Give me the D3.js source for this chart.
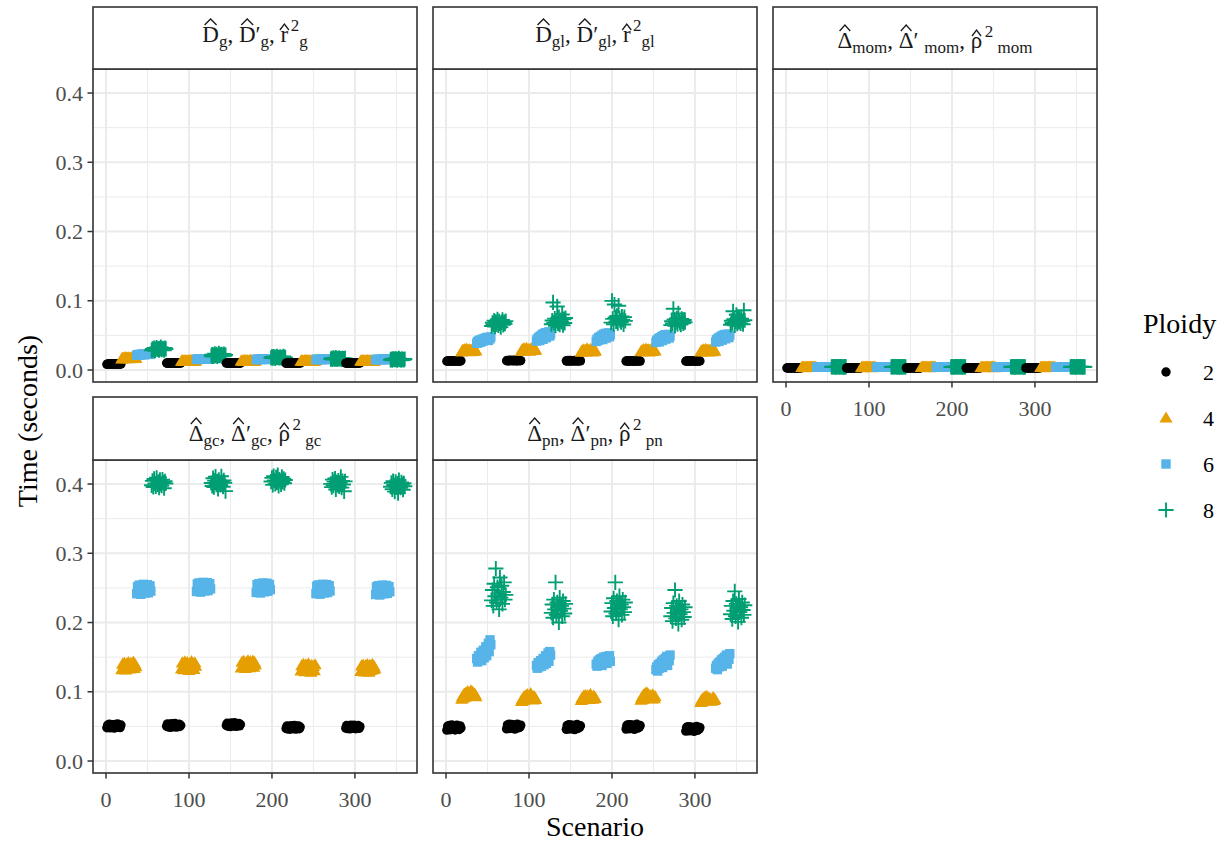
<!DOCTYPE html>
<html>
<head>
<meta charset="utf-8">
<script src="https://cdn.jsdelivr.net/npm/d3@7"></script>
<style>
  body { margin: 0; background: #fff; }
</style>
</head>
<body>
<div id="chart"></div>
<script>
// Computation time per scenario (milliseconds), 5 blocks of 18 scenarios per ploidy level

// D_g, D'_g, r^2_g
const gT2 = [
  [8.2,8.9,8.5,9.1,8.7,8.4,9.3,8.8,8.6,9.0,8.3,8.9,9.2,8.5,8.7,9.0,8.4,8.8],
  [10.1,9.6,10.4,9.9,10.2,9.7,10.5,10.0,9.8,10.3,9.9,10.1,9.6,10.4,10.0,9.8,10.2,9.9],
  [9.9,10.3,9.7,10.1,10.4,9.8,10.0,10.2,9.6,10.3,9.9,10.1,10.5,9.8,10.0,10.2,9.7,10.1],
  [9.7,10.0,10.3,9.8,10.1,9.6,10.2,9.9,10.4,10.0,9.7,10.1,9.9,10.3,9.8,10.0,10.2,9.9],
  [10.0,9.8,10.2,9.9,10.4,10.1,9.7,10.0,10.3,9.8,10.1,9.9,10.2,10.0,9.6,10.3,9.9,10.1]
];
const gT4 = [
  [16.2,17.0,16.5,17.4,16.8,17.9,16.4,17.2,17.6,16.9,16.3,17.5,17.1,16.7,17.8,16.6,17.3,17.0],
  [12.8,13.3,12.6,13.6,13.0,12.9,13.4,12.7,13.2,13.5,12.8,13.1,13.7,12.9,13.3,13.0,12.6,13.4],
  [13.1,12.7,13.4,12.9,13.6,13.2,12.8,13.5,13.0,12.7,13.3,13.8,12.9,13.1,13.4,12.8,13.2,13.0],
  [12.9,13.4,13.0,12.6,13.3,13.7,12.8,13.1,13.5,12.9,13.2,12.7,13.4,13.0,13.6,12.8,13.1,13.3],
  [13.0,12.8,13.5,13.2,12.7,13.4,13.1,12.9,13.6,13.0,12.8,13.3,13.1,12.6,13.4,13.2,12.9,13.5]
];
const gT6 = [
  [21.4,22.0,21.7,22.6,22.2,21.9,23.0,22.4,22.8,22.1,23.3,22.6,22.9,23.5,22.7,23.1,22.5,23.8],
  [15.4,15.9,15.2,16.1,15.6,15.8,16.3,15.5,16.0,15.7,16.4,15.9,15.6,16.2,15.8,16.5,16.0,15.7],
  [15.3,15.0,15.6,15.2,15.8,15.4,15.1,15.7,15.5,15.9,15.3,15.6,16.0,15.4,15.7,15.2,15.8,15.5],
  [15.1,15.5,14.9,15.3,15.7,15.2,15.6,15.0,15.4,15.8,15.3,15.1,15.6,15.4,15.9,15.2,15.5,15.7],
  [14.9,15.3,15.0,15.6,15.2,14.8,15.4,15.7,15.1,15.5,15.0,15.3,15.8,15.2,15.6,15.1,15.4,15.6]
];
const gT8 = [
  [28.4,30.6,29.1,31.8,27.9,30.2,32.5,29.6,31.0,28.8,30.9,33.1,29.4,31.4,30.1,28.6,31.7,30.4],
  [20.3,22.1,19.6,21.5,23.4,20.9,22.7,19.8,21.2,24.0,20.6,21.9,22.5,19.9,21.4,23.1,20.7,21.8],
  [17.6,18.9,17.2,19.4,18.3,16.9,18.7,19.8,17.8,18.4,17.4,19.1,18.0,17.1,18.6,19.6,17.9,18.2],
  [15.8,16.9,15.2,17.4,16.3,15.6,17.8,16.1,15.4,16.7,17.2,15.9,16.5,15.3,17.0,16.4,15.7,16.8],
  [14.6,15.8,14.1,16.2,15.3,14.8,16.6,15.0,14.4,15.6,16.9,14.9,15.4,14.2,16.0,15.2,14.7,15.9]
];

// D_gl, D'_gl, r^2_gl
const glT2 = [
  [12.6,13.2,12.9,13.6,12.8,13.4,13.1,12.7,13.5,13.0,12.6,13.3,13.7,12.9,13.2,13.0,12.8,13.4],
  [13.4,14.0,13.1,13.8,14.2,13.5,13.9,13.2,14.1,13.6,13.3,14.3,13.7,13.0,13.9,14.0,13.4,13.6],
  [13.3,12.9,13.7,13.4,13.0,13.8,13.2,13.6,12.8,13.5,13.9,13.1,13.4,13.7,13.0,13.3,13.6,13.2],
  [12.8,13.3,13.0,13.6,12.7,13.2,13.5,12.9,13.4,13.1,12.6,13.7,13.0,13.3,12.8,13.5,13.2,12.9],
  [12.7,13.1,12.9,13.5,12.6,13.3,13.0,12.8,13.6,13.2,12.9,13.4,12.7,13.1,13.5,12.8,13.3,13.0]
];
const glT4 = [
  [26.1,28.4,27.2,29.6,26.8,28.9,30.3,27.5,28.1,29.2,26.5,28.7,27.8,30.0,27.0,28.3,29.4,27.6],
  [27.3,29.5,28.0,30.8,27.7,29.1,31.2,28.4,29.8,28.6,27.4,30.2,28.9,31.5,28.2,29.3,30.6,28.7],
  [25.8,27.9,26.6,29.1,27.2,28.5,26.3,30.4,27.6,28.2,26.9,29.7,27.4,28.8,26.1,28.0,29.3,27.1],
  [26.4,28.2,27.1,29.5,26.7,28.8,30.1,27.3,28.5,29.0,26.2,28.6,27.7,30.6,27.0,28.1,29.2,27.5],
  [26.0,27.8,26.9,29.3,26.4,28.4,29.7,27.2,28.0,28.9,26.3,28.3,27.5,29.9,26.7,27.9,29.0,27.4]
];
const glT6 = [
  [38.6,41.2,39.5,42.8,40.1,43.5,41.0,44.6,42.2,45.3,43.1,46.4,44.0,47.2,42.7,46.0,45.1,47.8],
  [41.8,45.0,43.2,47.6,42.5,49.0,45.9,51.3,44.4,52.6,48.2,54.0,46.7,53.1,50.4,55.2,49.1,52.0],
  [41.2,44.5,42.6,46.9,43.8,48.3,45.2,50.2,44.0,51.6,47.5,52.9,46.1,50.8,49.3,53.7,48.0,51.1],
  [39.8,43.0,41.4,45.2,40.7,46.6,43.9,48.3,42.5,49.6,45.8,50.9,44.6,48.8,47.2,51.5,46.3,49.2],
  [40.4,43.8,41.9,46.0,41.3,47.3,44.5,49.0,43.2,50.2,46.4,51.3,45.1,49.5,47.9,52.0,46.8,50.4]
];
const glT8 = [
  [63.5,68.2,65.9,71.4,62.8,69.7,66.4,73.1,64.6,70.2,67.5,61.9,68.9,72.3,65.2,69.1,66.8,70.6],
  [66.1,71.5,97.6,68.3,74.2,63.9,70.8,91.8,67.4,76.3,65.5,72.1,69.6,80.2,64.7,73.4,68.0,75.1],
  [68.4,99.8,73.9,66.2,94.6,75.8,70.3,78.1,67.6,92.9,74.5,71.2,69.0,77.3,72.6,65.8,76.4,70.9],
  [64.8,70.5,67.2,88.4,72.9,63.7,69.3,74.6,66.1,81.7,71.4,68.2,65.6,73.8,70.1,67.5,72.3,69.0],
  [65.3,71.1,68.0,84.9,73.5,64.6,70.2,79.8,66.9,75.4,69.5,72.7,67.3,74.1,70.8,66.2,86.3,71.9]
];

// Delta_mom, Delta'_mom, rho^2_mom
const momT2 = [
  [2.9,3.1,3.0,2.8,3.2,3.0,2.9,3.1,3.3,3.0,2.8,3.1,3.0,2.9,3.2,3.0,3.1,2.9],
  [3.0,2.9,3.2,3.1,2.8,3.0,3.1,2.9,3.2,3.0,3.1,2.8,3.0,3.2,2.9,3.1,3.0,2.9],
  [3.1,3.0,2.8,3.2,3.0,2.9,3.1,3.0,2.9,3.3,3.0,3.1,2.8,3.0,3.1,2.9,3.2,3.0],
  [2.8,3.0,3.1,2.9,3.2,3.0,2.9,3.1,3.0,2.8,3.2,3.0,3.1,2.9,3.0,3.1,2.9,3.0],
  [3.0,3.1,2.9,3.0,2.8,3.2,3.0,3.1,2.9,3.0,3.1,2.9,3.2,3.0,2.8,3.1,3.0,2.9]
];
const momT4 = [
  [3.7,3.9,3.8,4.0,3.6,3.9,4.1,3.8,3.7,4.0,3.9,3.8,4.1,3.7,3.9,4.0,3.8,3.9],
  [3.8,3.6,3.9,4.0,3.7,3.8,4.1,3.9,3.7,3.8,4.0,3.9,3.6,3.8,4.0,3.7,3.9,3.8],
  [3.9,3.8,3.7,4.1,3.8,4.0,3.7,3.9,3.8,4.0,3.6,3.9,3.8,4.1,3.7,3.8,3.9,4.0],
  [3.7,3.9,4.0,3.8,3.6,3.9,3.8,4.1,3.7,3.9,3.8,4.0,3.7,3.8,4.1,3.9,3.6,3.8],
  [3.8,3.7,3.9,4.0,3.8,3.6,4.0,3.8,3.9,3.7,4.1,3.8,3.9,3.7,3.8,4.0,3.9,3.7]
];
const momT6 = [
  [4.0,4.2,3.9,4.1,4.3,4.0,3.9,4.2,4.1,4.0,4.3,3.9,4.1,4.2,4.0,3.9,4.1,4.2],
  [4.1,3.9,4.2,4.0,4.1,4.3,3.9,4.0,4.2,4.1,3.9,4.0,4.2,4.1,4.3,4.0,3.9,4.1],
  [3.9,4.1,4.0,4.2,3.9,4.1,4.3,4.0,4.1,3.9,4.2,4.0,4.1,3.9,4.2,4.1,4.0,4.2],
  [4.2,4.0,4.1,3.9,4.2,4.0,4.1,4.3,3.9,4.1,4.0,4.2,3.9,4.1,4.0,4.2,4.1,3.9],
  [4.0,4.1,4.2,4.0,3.9,4.1,4.0,4.2,4.1,4.3,3.9,4.0,4.1,4.2,3.9,4.0,4.2,4.1]
];
const momT8 = [
  [4.5,4.7,4.4,4.8,4.6,4.3,4.7,4.5,4.9,4.6,4.4,4.8,4.5,4.7,4.3,4.6,4.8,4.5],
  [4.6,4.4,4.8,4.5,4.7,4.9,4.4,4.6,4.5,4.8,4.3,4.7,4.6,4.5,4.8,4.4,4.7,4.6],
  [4.4,4.6,4.7,4.3,4.8,4.5,4.6,4.9,4.4,4.7,4.5,4.6,4.8,4.3,4.6,4.7,4.5,4.4],
  [4.7,4.5,4.4,4.8,4.6,4.3,4.7,4.5,4.6,4.8,4.4,4.5,4.7,4.6,4.9,4.5,4.3,4.6],
  [4.5,4.8,4.6,4.4,4.7,4.5,4.3,4.6,4.8,4.5,4.7,4.4,4.6,4.8,4.5,4.3,4.7,4.6]
];

// Delta_gc, Delta'_gc, rho^2_gc
const gcT2 = [
  [48.1,51.9,49.6,53.2,47.8,50.4,52.6,49.0,51.5,47.5,52.9,50.1,48.7,53.5,49.8,51.2,48.3,52.0],
  [50.2,53.6,49.1,52.8,51.0,48.6,53.9,50.7,52.2,49.5,54.1,51.4,48.9,52.6,50.0,53.2,49.8,51.7],
  [51.3,54.6,50.2,53.8,52.1,49.7,54.9,51.8,53.2,50.6,55.2,52.5,50.0,53.6,51.1,54.3,50.8,52.8],
  [47.0,50.6,46.3,49.8,48.2,45.9,51.0,47.6,49.3,46.7,51.4,48.5,46.1,50.2,47.3,50.8,46.6,49.0],
  [47.5,51.2,46.8,50.4,48.7,46.4,51.6,48.1,49.9,47.2,51.9,49.0,46.6,50.7,47.9,51.3,47.1,49.6]
];
const gcT4 = [
  [132.1,139.8,134.6,141.5,136.9,131.7,140.4,135.3,142.2,137.8,133.2,141.0,134.0,138.6,142.8,133.9,139.1,136.4],
  [133.0,141.6,136.2,131.9,143.1,139.0,134.7,142.0,137.5,130.8,140.8,135.6,143.6,133.4,139.8,132.4,141.9,137.0],
  [134.5,142.9,137.1,144.0,139.6,133.8,142.2,136.6,144.8,140.5,134.9,143.4,136.3,141.2,144.3,135.7,142.5,138.9],
  [130.2,137.9,132.8,139.6,134.4,129.1,138.7,131.9,136.8,140.2,129.8,135.9,128.5,138.1,131.5,136.5,130.4,139.0],
  [129.6,137.3,131.4,138.5,133.9,128.8,137.8,130.7,139.2,134.8,128.4,138.0,130.9,135.6,139.6,131.9,136.8,133.2]
];
const gcT6 = [
  [241.6,251.8,244.9,254.0,247.5,240.8,253.2,243.7,255.1,249.0,242.5,252.4,246.2,254.6,243.0,250.3,252.9,245.4],
  [244.8,255.6,248.1,257.2,250.7,243.9,256.4,246.9,258.0,252.3,245.6,255.0,249.4,257.6,246.1,253.5,256.1,248.6],
  [243.4,254.5,247.0,256.0,249.6,242.7,255.3,245.8,257.1,251.2,244.3,254.0,248.2,256.7,245.2,252.4,255.0,247.5],
  [241.7,252.6,245.1,254.3,247.8,240.9,253.5,243.9,255.2,249.3,242.6,252.1,246.3,254.8,243.4,250.6,253.1,245.6],
  [240.5,251.4,243.9,253.1,246.6,239.8,252.3,242.7,254.0,248.1,241.4,250.9,245.2,253.6,242.1,249.4,251.9,244.4]
];
const gcT8 = [
  [398.2,404.6,395.7,407.3,401.0,396.4,409.1,399.5,403.2,394.8,405.9,400.3,397.6,406.4,402.1,393.9,404.0,400.8],
  [401.5,397.2,408.4,395.6,404.9,410.6,399.0,403.7,392.8,406.2,400.4,398.7,411.2,402.9,396.1,405.3,401.8,389.8],
  [403.6,408.9,398.8,411.4,405.2,400.1,409.7,402.4,413.0,397.3,406.5,404.1,399.6,410.2,403.0,407.6,401.2,405.8],
  [400.2,395.6,406.3,397.8,403.4,408.0,392.1,402.7,398.9,405.1,396.5,401.6,410.3,394.8,404.4,399.3,389.5,403.9],
  [396.1,401.7,392.4,404.2,398.5,389.0,403.0,395.3,400.8,386.7,405.6,397.2,394.6,402.3,399.4,391.8,401.1,396.8]
];

// Delta_pn, Delta'_pn, rho^2_pn
const pnT2 = [
  [44.6,50.3,46.9,51.4,45.2,48.8,52.0,46.0,49.6,51.0,44.9,48.1,51.7,46.5,50.2,45.6,50.8,47.7],
  [46.4,52.1,48.3,53.0,46.9,50.6,52.7,47.4,51.5,49.9,46.1,52.4,49.2,53.3,47.8,50.9,48.8,51.8],
  [45.8,51.4,47.5,52.4,46.3,49.8,52.1,46.6,50.7,49.1,45.4,51.9,48.3,52.8,47.0,50.3,48.6,51.0],
  [46.1,51.6,47.9,52.6,46.6,50.2,52.3,47.0,51.0,49.4,45.8,52.0,48.6,53.1,47.3,50.5,49.0,51.3],
  [43.1,48.7,44.9,49.6,43.6,47.3,49.2,44.1,48.0,46.4,42.8,49.0,45.6,50.1,44.3,47.6,46.0,48.3]
];
const pnT4 = [
  [89.5,93.2,91.0,96.8,92.4,98.1,94.6,100.2,95.3,97.7,93.8,101.5,96.2,99.4,94.1,97.0,95.8,92.9],
  [86.0,89.4,87.3,92.6,88.7,94.1,90.5,95.8,91.2,93.4,89.9,97.2,92.0,90.8,88.3,93.0,91.6,89.1],
  [87.4,90.8,88.5,93.6,89.9,95.0,91.7,92.4,94.2,90.3,88.9,96.1,92.8,91.1,89.4,93.9,92.0,90.6],
  [87.9,91.6,89.2,95.3,90.7,97.4,92.5,98.6,93.1,96.0,91.0,94.4,92.2,89.6,95.7,93.7,90.1,92.9],
  [84.6,87.8,85.9,90.5,87.2,92.3,88.6,93.5,89.4,91.2,86.8,90.0,88.1,86.3,89.8,91.7,87.5,88.9]
];
const pnT6 = [
  [148,143,152,146,150,157,145,153,160,149,156,165,152,162,170,158,175,168],
  [138,134,142,136,140,145,137,143,148,139,146,152,141,150,156,144,158,153],
  [140,137,144,139,146,142,148,138,145,150,143,147,151,141,149,146,152,144],
  [132,136,130,139,134,141,137,144,135,146,140,148,143,151,138,149,145,153],
  [134,138,132,141,136,143,139,146,137,148,142,150,145,153,140,151,147,155]
];
const pnT8 = [
  [232,247,224,256,238,278,229,251,242,219,265,236,253,227,244,258,233,240],
  [214,226,207,233,219,258,211,229,222,200,236,217,224,209,231,220,213,227],
  [216,228,209,235,221,258,213,231,224,204,238,219,226,211,233,222,215,229],
  [209,221,202,228,214,247,206,224,217,198,231,212,219,204,226,215,208,222],
  [212,224,205,231,217,245,209,227,220,201,234,215,222,207,229,218,211,225]
];

const ploidyLevels = ["2", "4", "6", "8"];
const ploidyColors = ["#000000", "#E69F00", "#56B4E9", "#009E73"];
const yTicks = [0, 0.1, 0.2, 0.3, 0.4];
const yMinor = [0.05, 0.15, 0.25, 0.35];
const xTicks = [0, 100, 200, 300];
const xMinor = [50, 150, 250, 350];

// strip labels as plotmath-like pieces
const labelG = [{t:"D",hat:1},{t:"g",sub:1},{t:", "},{t:"D",hat:1},{t:"\u2032"},{t:"g",sub:1},{t:", "},{t:"r",hat:1,low:1},{t:"2",sup:1},{t:"g",sub:1}];
const labelGL = [{t:"D",hat:1},{t:"gl",sub:1},{t:", "},{t:"D",hat:1},{t:"\u2032"},{t:"gl",sub:1},{t:", "},{t:"r",hat:1,low:1},{t:"2",sup:1},{t:"gl",sub:1}];
const labelMOM = [{t:"\u0394",hat:1},{t:"mom",sub:1},{t:", "},{t:"\u0394",hat:1},{t:"\u2032 "},{t:"mom",sub:1},{t:", "},{t:"\u03C1",hat:1,low:1},{t:"2",sup:1},{t:" mom",sub:1}];
const labelGC = [{t:"\u0394",hat:1},{t:"gc",sub:1},{t:", "},{t:"\u0394",hat:1},{t:"\u2032"},{t:"gc",sub:1},{t:", "},{t:"\u03C1",hat:1,low:1},{t:"2",sup:1},{t:" gc",sub:1}];
const labelPN = [{t:"\u0394",hat:1},{t:"pn",sub:1},{t:", "},{t:"\u0394",hat:1},{t:"\u2032"},{t:"pn",sub:1},{t:", "},{t:"\u03C1",hat:1,low:1},{t:"2",sup:1},{t:" pn",sub:1}];

const panels = [
  {label: labelG,   col: 0, row: 0, base: 35, series: [gT2, gT4, gT6, gT8], xAxis: false, yAxis: true},
  {label: labelGL,  col: 1, row: 0, base: 35, series: [glT2, glT4, glT6, glT8], xAxis: false, yAxis: false},
  {label: labelMOM, col: 2, row: 0, base: 41, series: [momT2, momT4, momT6, momT8], xAxis: true, yAxis: false},
  {label: labelGC,  col: 0, row: 1, base: 44, series: [gcT2, gcT4, gcT6, gcT8], xAxis: true, yAxis: true},
  {label: labelPN,  col: 1, row: 1, base: 44, series: [pnT2, pnT4, pnT6, pnT8], xAxis: true, yAxis: false}
];

const width = 1227, height = 842;
const font = "'Liberation Serif', 'Times New Roman', serif";
const colX = [93, 433, 773];
const rowY = [69, 460];
const stripTop = [7, 397];
const pw = 324, ph = 313;

const svg = d3.select("#chart").append("svg")
  .attr("width", width)
  .attr("height", height)
  .style("font-family", font);

svg.append("rect").attr("width", width).attr("height", height).attr("fill", "#fff");

const x = d3.scaleLinear().domain([-15.7, 374.8]).range([0, pw]);
const y = d3.scaleLinear().domain([-0.0173, 0.4347]).range([ph, 0]);
const color = d3.scaleOrdinal().domain(ploidyLevels).range(ploidyColors);

// marker shapes like ggplot pch 16, 17, 15, 3
function marker(sel, ploidy) {
  const c = color(ploidy);
  if (ploidy === "2") {
    sel.append("circle").attr("r", 4.7).attr("fill", c);
  } else if (ploidy === "4") {
    sel.append("path").attr("d", "M0,-6.6L6.6,4.6L-6.6,4.6Z").attr("fill", c);
  } else if (ploidy === "6") {
    sel.append("rect").attr("x", -4.7).attr("y", -4.7).attr("width", 9.4).attr("height", 9.4).attr("fill", c);
  } else {
    sel.append("path").attr("d", "M-7.6,0H7.6M0,-7.6V7.6")
      .attr("stroke", c).attr("stroke-width", 1.9).attr("fill", "none");
  }
}

function drawLabel(g, pieces, cx, baseline) {
  const lg = g.append("g");
  let xpos = 0;
  pieces.forEach(p => {
    const size = (p.sub || p.sup) ? 17 : 23;
    const dy = p.sub ? 5 : p.sup ? -11 : 0;
    if (p.sup) xpos += 2.5;
    const t = lg.append("text")
      .attr("x", xpos)
      .attr("y", baseline + dy)
      .attr("font-size", size)
      .attr("fill", "#1A1A1A")
      .style("white-space", "pre")
      .text(p.t);
    const w = t.node().getComputedTextLength();
    if (p.hat) {
      const hx = xpos + w / 2;
      const hw = p.low ? 4.5 : Math.max(5, w * 0.36);
      const hb = baseline - (p.low ? 12 : 17);
      lg.append("path")
        .attr("d", `M${hx - hw},${hb}L${hx},${hb - 6}L${hx + hw},${hb}`)
        .attr("fill", "none")
        .attr("stroke", "#1A1A1A")
        .attr("stroke-width", 1.3);
    }
    xpos += w;
  });
  lg.attr("transform", `translate(${cx - xpos / 2},0)`);
}

panels.forEach(p => {
  const px = colX[p.col], py = rowY[p.row];
  const g = svg.append("g").attr("transform", `translate(${px},${py})`);

  // background + grid
  g.append("rect").attr("width", pw).attr("height", ph).attr("fill", "#fff");
  g.selectAll(".xminor").data(xMinor).join("line")
    .attr("x1", d => x(d)).attr("x2", d => x(d)).attr("y1", 0).attr("y2", ph)
    .attr("stroke", "#EBEBEB").attr("stroke-width", 1);
  g.selectAll(".yminor").data(yMinor).join("line")
    .attr("x1", 0).attr("x2", pw).attr("y1", d => y(d)).attr("y2", d => y(d))
    .attr("stroke", "#EBEBEB").attr("stroke-width", 1);
  g.selectAll(".xmajor").data(xTicks).join("line")
    .attr("x1", d => x(d)).attr("x2", d => x(d)).attr("y1", 0).attr("y2", ph)
    .attr("stroke", "#EBEBEB").attr("stroke-width", 2);
  g.selectAll(".ymajor").data(yTicks).join("line")
    .attr("x1", 0).attr("x2", pw).attr("y1", d => y(d)).attr("y2", d => y(d))
    .attr("stroke", "#EBEBEB").attr("stroke-width", 2);

  // points: scenario = block*72 + ploidy*18 + i + 1
  const pts = [];
  for (let b = 0; b < 5; b++) {
    p.series.forEach((s, k) => {
      s[b].forEach((v, i) => {
        pts.push({scenario: b * 72 + k * 18 + i + 1, time: v / 1000, ploidy: ploidyLevels[k]});
      });
    });
  }
  pts.forEach(d => {
    const m = g.append("g").attr("transform", `translate(${x(d.scenario)},${y(d.time)})`);
    marker(m, d.ploidy);
  });

  // border
  g.append("rect").attr("width", pw).attr("height", ph)
    .attr("fill", "none").attr("stroke", "#333333").attr("stroke-width", 1.6);

  // strip
  const st = stripTop[p.row];
  const sg = svg.append("g").attr("transform", `translate(${px},${st})`);
  sg.append("rect").attr("width", pw).attr("height", py - st)
    .attr("fill", "#fff").attr("stroke", "#333333").attr("stroke-width", 1.6);
  drawLabel(sg, p.label, pw / 2, p.base);

  // axes
  if (p.yAxis) {
    const ya = g.append("g");
    ya.selectAll("line").data(yTicks).join("line")
      .attr("x1", -5.5).attr("x2", 0).attr("y1", d => y(d)).attr("y2", d => y(d))
      .attr("stroke", "#333333").attr("stroke-width", 1.5);
    ya.selectAll("text").data(yTicks).join("text")
      .attr("x", -10).attr("y", d => y(d)).attr("dy", "0.34em")
      .attr("text-anchor", "end").attr("font-size", 22).attr("fill", "#4D4D4D")
      .text(d3.format(".1f"));
  }
  if (p.xAxis) {
    const xa = g.append("g").attr("transform", `translate(0,${ph})`);
    xa.selectAll("line").data(xTicks).join("line")
      .attr("x1", d => x(d)).attr("x2", d => x(d)).attr("y1", 0).attr("y2", 5.5)
      .attr("stroke", "#333333").attr("stroke-width", 1.5);
    xa.selectAll("text").data(xTicks).join("text")
      .attr("x", d => x(d)).attr("y", 34)
      .attr("text-anchor", "middle").attr("font-size", 22).attr("fill", "#4D4D4D")
      .text(d => d);
  }
});

// axis titles
svg.append("text")
  .attr("transform", "translate(37,421) rotate(-90)")
  .attr("text-anchor", "middle")
  .attr("font-size", 28)
  .attr("fill", "#000")
  .text("Time (seconds)");

svg.append("text")
  .attr("x", 595).attr("y", 836)
  .attr("text-anchor", "middle")
  .attr("font-size", 28)
  .attr("fill", "#000")
  .text("Scenario");

// legend
const legend = svg.append("g");
legend.append("text")
  .attr("x", 1143).attr("y", 333)
  .attr("font-size", 28)
  .attr("fill", "#000")
  .text("Ploidy");
const keyY = [372, 418, 464, 510];
ploidyLevels.forEach((lv, i) => {
  const kg = legend.append("g").attr("transform", `translate(1166,${keyY[i]})`);
  marker(kg, lv);
  legend.append("text")
    .attr("x", 1203).attr("y", keyY[i] + 8)
    .attr("font-size", 22)
    .attr("fill", "#000")
    .text(lv);
});
</script>
</body>
</html>
